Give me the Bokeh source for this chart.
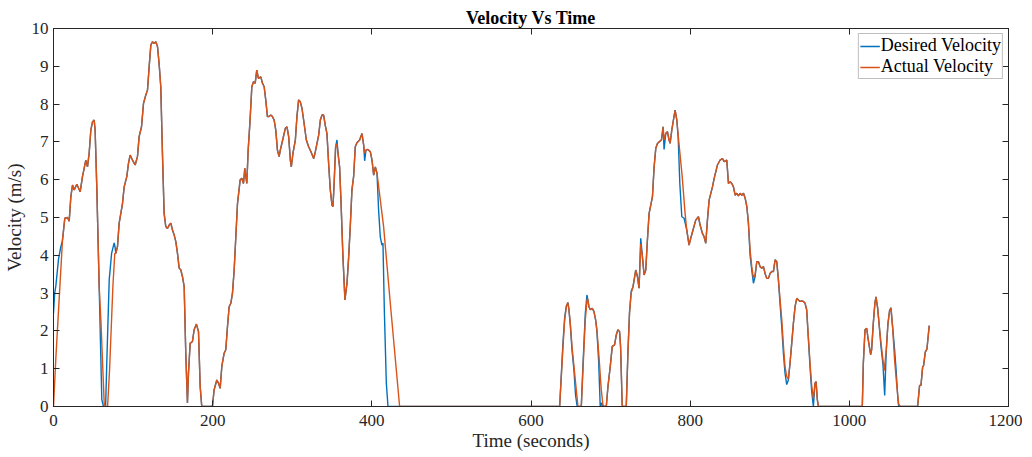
from bokeh.plotting import figure
from bokeh.models import LinearAxis, Legend, LegendItem, Range1d, FixedTicker
from bokeh.embed import file_html
from bokeh.resources import INLINE

# ---------------- data ----------------
t_actual = [0, 3, 7, 11.3, 14.2, 17.6, 19.7, 21.8, 23.9, 26, 29.3, 33.5, 36.4, 40.6, 42.7, 44.8, 46.9, 49, 51.1, 52.3,
            54.4, 57.4, 59.5, 63.7, 65, 68, 70.5, 74.6, 77, 78.3, 80.4, 82.5, 84.6, 86.7, 88.8, 92.1, 94.2, 96.3, 99.2,
            102.6, 105.5, 107.6, 110.6, 113.1, 116, 118.1, 120.2, 122.3, 124.4, 126.5, 128.6, 130.7, 132.7, 134.8,
            136.9, 139, 141.1, 143.2, 145.4, 147.4, 149.5, 151.6, 153.7, 155.8, 157.9, 160, 162, 164.2, 166.2, 168.3,
            169.6, 171.7, 174.6, 176.7, 179.6, 182.2, 184.3, 186.3, 199.7, 201.8, 205.2, 207.3, 209.4, 211.5, 214.4,
            216.5, 218.6, 220.7, 222.8, 224.9, 227, 229.1, 231.2, 234.5, 236.6, 238.7, 240.4, 242.9, 244.6, 247,
            249.2, 251.3, 253.4, 255.4, 257.5, 260.5, 262.6, 264.7, 266.7, 268.8, 270.9, 273, 275.1, 277.2, 279.3,
            281.4, 283.5, 285, 288.4, 291.3, 293.4, 295.5, 297.6, 298.8, 300.9, 303.9, 305.9, 308, 310.1, 312.2,
            314.3, 317.7, 320.6, 323.5, 326.9, 329, 331.1, 333.2, 335.3, 337.4, 339.4, 341.5, 343.6, 345.7, 347.8,
            349.9, 351.2, 352.8, 354.5, 356.2, 357.5, 359.5, 361.2, 363.7, 366.2, 368.8, 370.9, 372.9, 375, 377.1,
            379.2, 381.3, 384.7, 387.6, 389.7, 391, 392.6, 395.1, 398.1, 400.2, 402.3, 404.4, 406.5, 414.8, 423.2,
            434.9, 636, 640.2, 642.3, 644.4, 646.4, 647.7, 649.4, 651.5, 654, 656.9, 659, 663.2, 665.3, 668.2, 670.3,
            671.2, 672.8, 674.5, 677, 679.1, 681.2, 682.8, 685.4, 688.3, 690.4, 692.5, 694.6, 696.7, 699.6, 702.1,
            705, 707.1, 709.2, 711.3, 712.6, 714.6, 715.5, 719.7, 721.8, 723.8, 725.9, 728.2, 731.6, 733.7, 735.8,
            737.9, 740, 742.1, 744.2, 746.3, 748.4, 750.5, 752.6, 754.7, 756.8, 758.9, 761, 763.9, 766, 767.2, 769.3,
            771.4, 773.5, 774.8, 776.9, 779, 781.1, 783.2, 785.5, 790, 793.6, 795.7, 798.6, 800.7, 804.1, 807, 810.4,
            812.5, 815.4, 817.5, 819.6, 821.7, 823.8, 828, 830.1, 834.3, 837.6, 840.6, 842.7, 846, 848.1, 850.2,
            852.3, 854.4, 856.5, 858.6, 860.6, 862.8, 864.9, 867, 869.1, 871.2, 873.2, 875.3, 877.4, 879.5, 881.6,
            883.7, 885.8, 887.9, 890, 892.1, 894.1, 896.2, 898.3, 900.4, 902.5, 904.6, 906.7, 908.8, 910.9, 913,
            915.1, 917.2, 919.2, 921.3, 923.4, 925.5, 927.6, 929.7, 931.8, 933.9, 936, 938.1, 940.2, 942.3, 944.4,
            946.4, 948.5, 950.6, 952.7, 954.8, 956.9, 958.2, 959.8, 961.1, 1016.3, 1017.6, 1019.7, 1021.8, 1023.8,
            1026.8, 1028, 1030.1, 1032.2, 1033.5, 1035.6, 1037.7, 1039.7, 1042.3, 1043.8, 1046.4, 1048.5, 1050.6,
            1052.3, 1054.4, 1056.9, 1059.8, 1061.9, 1064, 1085.8, 1088.3, 1090, 1092.1, 1093.3, 1095.4, 1097.5, 1100.4]
v_actual = [0, 1.3, 2.8, 4.4, 4.98, 5.0, 4.9, 5.55, 5.86, 5.73, 5.88, 5.68, 6.08, 6.52, 6.34, 6.7, 7.31, 7.53, 7.58, 7.31,
            5.81, 3.17, 2.3, 0.09, 0, 0, 1.0, 3.17, 4.05, 4.05, 4.23, 4.85, 5.11, 5.37, 5.81, 6.08, 6.43, 6.65, 6.52,
            6.39, 6.61, 7.14, 7.40, 8.02, 8.24, 8.37, 8.99, 9.56, 9.65, 9.6, 9.65, 9.52, 9.07, 8.46,
            6.70, 5.11, 4.76, 4.71, 4.80, 4.85, 4.67, 4.54, 4.36, 4.05, 3.66, 3.61, 3.44, 3.17, 1.41, 0.09,
            0.88, 1.67, 1.72, 2.03, 2.18, 1.98, 0.53, 0, 0, 0.44, 0.70, 0.62, 0.48, 1.06, 1.41,
            1.50, 2.11, 2.64, 2.73, 3.0, 3.61, 4.49, 5.37, 5.99, 6.04, 5.90, 6.3, 5.9, 6.78, 7.58,
            8.46, 8.59, 8.55, 8.90, 8.68, 8.72, 8.55, 8.46, 8.11, 7.67, 7.67, 7.71, 7.67, 7.58, 7.31,
            6.78, 6.61, 6.78, 7.09, 7.36, 7.40, 7.14, 6.52, 6.34, 6.70, 7.05, 7.67, 8.11, 8.06, 7.89,
            7.58, 7.05, 6.87, 6.74, 6.56, 6.74, 6.96, 7.18, 7.58, 7.71, 7.71, 7.44, 7.22, 6.43, 5.73,
            5.33, 5.29, 5.99, 6.87, 6.95, 6.70, 6.34, 5.46, 3.96, 2.82, 3.26, 3.96, 4.76, 5.73, 6.08,
            6.87, 6.98, 7.05, 7.22, 6.92, 6.7, 6.78, 6.80, 6.74, 6.52, 6.12, 6.34, 6.17, 4.76, 2.73,
            0, 0, 1.59, 2.29, 2.64, 2.75, 2.56, 2.20, 1.59, 1.06, 0.44, 0, 0, 0.97, 2.29, 2.8,
            2.86, 2.64, 2.56, 2.60, 2.51, 2.29, 2.03, 1.32, 0.44, 0.04, 0, 0, 0.53, 1.06, 1.59,
            1.63, 1.89, 2.03, 1.98, 1.59, 0.04, 0, 0, 1.41, 2.47, 3.0, 3.17, 3.61, 3.44, 3.13,
            4.3, 3.96, 3.48, 3.61, 4.41, 5.11, 5.33, 5.55, 6.34, 6.83, 6.96, 7.0, 7.05, 7.40, 7.05, 7.22,
            7.27, 7.05, 6.96, 7.31, 7.58, 7.84, 7.58, 7.05, 6.08, 5.11, 4.67, 4.27, 4.45, 4.71, 4.93, 5.02,
            4.80, 4.58, 4.49, 4.32, 4.93, 5.46, 5.81, 6.03, 6.39, 6.52, 6.56, 6.48, 6.52, 5.90, 5.95,
            5.90, 5.81, 5.59, 5.64, 5.57, 5.64, 5.59, 5.64, 5.51, 5.29, 4.85, 4.14, 3.70, 3.40, 3.50,
            3.83, 3.83, 3.70, 3.66, 3.70, 3.52, 3.39, 3.39, 3.52, 3.57, 3.57, 3.88, 3.83, 3.35, 2.82,
            2.30, 1.60, 1.05, 0.80, 0.72, 1.15, 1.67, 2.20, 2.64, 2.86, 2.82, 2.78, 2.79, 2.78, 2.73,
            2.56, 1.85, 1.15, 0.55, 0.2, 0.62, 0.66, 0.18, 0, 0, 1.15, 2.03, 2.07, 1.76,
            1.37, 1.50, 2.20, 2.75, 2.90, 2.60, 2.11, 1.70, 1.22, 0.95, 1.48, 2.19, 2.54,
            2.61, 2.10, 1.22, 0.51, 0.07, 0, 0, 0.56, 0.56, 1.04, 1.08, 1.44, 1.52, 2.14]

t_desired = [0, 1.5, 3, 6.3, 9, 11.3, 14.2, 17.6, 19.7, 21.8, 23.9, 26, 29.3, 33.5, 36.4, 40.6, 42.7, 44.8, 46.9, 49,
             51.1, 52.3, 54.4, 57.4, 60.7, 62.8, 65.5, 67, 70, 73, 76.2, 77.5, 78.3, 80.4, 82.5, 84.6, 86.7, 88.8,
             92.1, 94.2, 96.3, 99.2, 102.6, 105.5, 107.6, 110.6, 113.1, 116, 118.1, 120.2, 122.3, 124.4, 126.5, 128.6,
             130.7, 132.7, 134.8, 136.9, 139, 141.1, 143.2, 145.4, 147.4, 149.5, 151.6, 153.7, 155.8, 157.9, 160, 162,
             164.2, 166.2, 168.3, 169.6, 171.7, 174.6, 176.7, 179.6, 182.2, 184.3, 186.3, 199.7, 201.8, 205.2, 207.3,
             209.4, 211.5, 214.4, 216.5, 218.6, 220.7, 222.8, 224.9, 227, 229.1, 231.2, 234.5, 236.6, 238.7, 240.4,
             242.9, 244.6, 247, 249.2, 251.3, 253.4, 255.4, 257.5, 260.5, 262.6, 264.7, 266.7, 268.8, 270.9, 273,
             275.1, 277.2, 279.3, 281.4, 283.5, 285, 288.4, 291.3, 293.4, 295.5, 297.6, 298.8, 300.9, 303.9, 305.9,
             308, 310.1, 312.2, 314.3, 317.7, 320.6, 323.5, 326.9, 329, 331.1, 333.2, 335.3, 337.4, 339.4, 341.5,
             343.6, 345.7, 347.8, 349.9, 351.2, 352.8, 354.5, 356.2, 357.5, 359.5, 361.2, 363.7, 366.2, 368.8, 370.9,
             372.9, 375, 377.1, 379.2, 381.3, 384.7, 387.6, 389.7, 391, 392.6, 395.1, 398.1, 400.2, 402.3, 404.4,
             406.5, 408.5, 410.6, 412.7, 414, 415.7, 418.2, 420.3, 636, 640.2, 642.3, 644.4, 646.4, 647.7, 649.4,
             651.5, 654, 656, 658, 663.2, 665.3, 668.2, 670.3, 672.8, 674.5, 677, 679.1, 681.2, 682.8, 685, 687,
             688.8, 690, 694.6, 696.7, 699.6, 702.1, 705, 707.1, 709.2, 711.3, 712.6, 714.6, 715.5, 719.7, 721.8,
             723.8, 725.9, 728.2, 731.6, 733.7, 735.8, 737.9, 740, 742.1, 744.2, 746.3, 748.4, 750.5, 752.6, 754.7,
             756.8, 758.9, 761, 763.9, 766, 767.2, 769.3, 771.4, 773.5, 774.8, 776.9, 779, 781.1, 783.2, 784.9, 787,
             789.5, 792.4, 795.7, 798.6, 800.7, 804.1, 807, 810.4, 812.5, 815.4, 817.5, 819.6, 821.7, 823.8, 828,
             830.1, 834.3, 837.6, 840.6, 842.7, 846, 848.1, 850.2, 852.3, 854.4, 856.5, 858.6, 860.6, 862.8, 864.9,
             867, 869.1, 871.2, 873.2, 875.3, 877.4, 879.5, 881.6, 883.7, 885.8, 887.9, 890, 892.1, 894.1, 896.2,
             898.3, 900.4, 902.5, 904.6, 906.7, 908.8, 910.9, 913, 915.1, 917.2, 919.2, 921.3, 923.4, 925.5, 927.6,
             929.7, 931.8, 933.9, 936, 938.1, 940.2, 942.3, 944.4, 946.4, 948.5, 950.6, 952.7, 954.8, 956.9, 958.2,
             959.8, 961.1, 1016.3, 1017.6, 1019.7, 1021.8, 1023.8, 1026.8, 1028, 1030.1, 1032.2, 1033.5, 1035.6,
             1037.7, 1039.7, 1042.3, 1044.4, 1046.4, 1048.5, 1050.6, 1052.3, 1054.4, 1056.9, 1059, 1061, 1062, 1085.8,
             1088.3, 1090, 1092.1, 1093.3, 1095.4, 1097.5, 1100.4]
v_desired = [2.47, 3.0, 3.2, 3.9, 4.2, 4.4, 4.98, 5.0, 4.9, 5.55, 5.86, 5.73, 5.88, 5.68, 6.08, 6.52, 6.34, 6.7, 7.31, 7.53,
             7.58, 7.31, 5.81, 3.17, 0.18, 0, 0, 1.2, 3.35, 4.05, 4.33, 4.2, 4.05, 4.23, 4.85, 5.11, 5.37, 5.81,
             6.08, 6.43, 6.65, 6.52, 6.39, 6.61, 7.14, 7.40, 8.02, 8.24, 8.37, 8.99, 9.56, 9.65, 9.6, 9.65,
             9.52, 9.07, 8.46, 6.70, 5.11, 4.76, 4.71, 4.80, 4.85, 4.67, 4.54, 4.36, 4.05, 3.66, 3.61, 3.44,
             3.17, 1.41, 0.09, 0.88, 1.67, 1.72, 2.03, 2.18, 1.98, 0.53, 0, 0, 0.44, 0.70, 0.62,
             0.48, 1.06, 1.41, 1.50, 2.11, 2.64, 2.73, 3.0, 3.61, 4.49, 5.37, 5.99, 6.04, 5.90, 6.3,
             5.9, 6.78, 7.58, 8.46, 8.59, 8.55, 8.90, 8.68, 8.72, 8.55, 8.46, 8.11, 7.67, 7.67, 7.71,
             7.67, 7.58, 7.31, 6.78, 6.61, 6.78, 7.09, 7.36, 7.40, 7.14, 6.52, 6.34, 6.70, 7.05, 7.67,
             8.11, 8.06, 7.89, 7.58, 7.05, 6.87, 6.74, 6.56, 6.74, 6.96, 7.18, 7.58, 7.71, 7.71, 7.44,
             7.22, 6.43, 5.73, 5.33, 5.29, 5.99, 6.87, 7.05, 6.70, 6.34, 5.46, 3.96, 2.82, 3.26, 3.96,
             4.76, 5.73, 6.08, 6.87, 6.98, 7.05, 7.22, 6.92, 6.5, 6.78, 6.80, 6.74, 6.52, 6.12, 6.34,
             6.17, 5.20, 4.49, 4.27, 4.32, 2.56, 0.62, 0, 0, 1.7, 2.35, 2.66, 2.75, 2.56, 2.15,
             1.5, 0.95, 0.3, 0, 0, 1.1, 2.45, 2.95, 2.64, 2.56, 2.60, 2.51, 2.29, 2.0, 1.2, 0,
             0.1, 0, 0, 0.53, 1.06, 1.59, 1.63, 1.89, 2.03, 1.98, 1.55, 0.02, 0, 0, 1.45,
             2.5, 3.05, 3.17, 3.61, 3.44, 3.13, 4.45, 3.96, 3.48, 3.61, 4.41, 5.11, 5.33, 5.55, 6.34,
             6.83, 6.96, 7.0, 7.05, 7.40, 6.8, 7.22, 7.27, 7.05, 6.96, 7.31, 7.58, 7.84, 7.58, 7.14, 5.90,
             5.02, 4.98, 4.67, 4.27, 4.45, 4.71, 4.93, 5.02, 4.80, 4.58, 4.49, 4.32, 4.93, 5.46, 5.81,
             6.03, 6.39, 6.52, 6.56, 6.48, 6.52, 5.90, 5.95, 5.90, 5.81, 5.59, 5.64, 5.57, 5.64, 5.59,
             5.64, 5.51, 5.29, 4.85, 4.0, 3.61, 3.26, 3.44, 3.83, 3.83, 3.70, 3.66, 3.70, 3.52, 3.39,
             3.39, 3.52, 3.57, 3.57, 3.88, 3.83, 3.35, 2.7, 2.1, 1.4, 0.88, 0.58, 0.7, 1.15, 1.67,
             2.20, 2.64, 2.86, 2.82, 2.78, 2.79, 2.78, 2.73, 2.56, 1.8, 1.05, 0.4, 0, 0.62, 0.66,
             0.18, 0, 0, 1.15, 2.03, 2.07, 1.76, 1.37, 1.50, 2.20, 2.75, 2.90, 2.60,
             2.11, 1.60, 1.1, 0.29, 1.48, 2.19, 2.54, 2.61, 2.10, 1.5, 0.9, 0.2, 0, 0,
             0.56, 0.56, 1.04, 1.08, 1.44, 1.52, 2.14]

x_ticks = [0, 200, 400, 600, 800, 1000, 1200]
y_ticks = [0, 1, 2, 3, 4, 5, 6, 7, 8, 9, 10]
title_text = "Velocity Vs Time"
x_label = "Time (seconds)"
y_label = "Velocity (m/s)"
series_names = ["Desired Velocity", "Actual Velocity"]
colors = ["#0072BD", "#D95319"]

# ---------------- figure ----------------
FONT = "Liberation Serif"
AX = "#262626"

p = figure(frame_width=955, frame_height=378, output_backend="svg", toolbar_location=None,
           x_range=Range1d(0, 1200), y_range=Range1d(0, 10),
           min_border_left=44, min_border_right=14, min_border_top=28, min_border_bottom=4)

p.title.text = title_text
p.title.align = "center"
p.title.text_font = FONT
p.title.text_font_size = "18px"
p.title.text_font_style = "bold"
p.title.text_color = "#000000"
p.title.standoff = 2

p.grid.visible = False
p.outline_line_color = AX
p.outline_line_width = 1
p.background_fill_color = "white"
p.border_fill_color = "white"

p.xaxis.ticker = FixedTicker(ticks=x_ticks)
p.yaxis.ticker = FixedTicker(ticks=y_ticks)
p.xaxis.axis_label = x_label
p.yaxis.axis_label = y_label

for ax in [p.xaxis[0], p.yaxis[0]]:
    ax.axis_line_color = AX
    ax.major_tick_line_color = AX
    ax.major_tick_in = 6
    ax.major_tick_out = 0
    ax.minor_tick_line_color = None
    ax.major_label_text_font = FONT
    ax.major_label_text_font_size = "17px"
    ax.major_label_text_color = AX
    ax.axis_label_text_font = FONT
    ax.axis_label_text_font_size = "19px"
    ax.axis_label_text_font_style = "normal"
    ax.axis_label_text_color = AX
p.xaxis[0].major_label_standoff = 8
p.xaxis[0].axis_label_standoff = 1
p.yaxis[0].major_label_standoff = 5
p.yaxis[0].axis_label_standoff = 4

# mirrored axes (box on)
top = LinearAxis(ticker=FixedTicker(ticks=x_ticks))
right = LinearAxis(ticker=FixedTicker(ticks=y_ticks))
for ax in [top, right]:
    ax.axis_line_color = AX
    ax.major_tick_line_color = AX
    ax.major_tick_in = 6
    ax.major_tick_out = 0
    ax.minor_tick_line_color = None
    ax.major_label_text_font_size = "0px"
    ax.major_label_text_color = None
    ax.major_label_standoff = 0
p.add_layout(top, "above")
p.add_layout(right, "right")

r1 = p.line(t_desired, v_desired, line_color=colors[0], line_width=1.4)
r2 = p.line(t_actual, v_actual, line_color=colors[1], line_width=1.4)

legend = Legend(items=[LegendItem(label=series_names[0], renderers=[r1]),
                       LegendItem(label=series_names[1], renderers=[r2])],
                location="top_right")
legend.label_text_font = FONT
legend.label_text_font_size = "18px"
legend.label_text_color = "#000000"
legend.label_standoff = 1
legend.label_height = 20
legend.glyph_width = 20
legend.glyph_height = 20
legend.spacing = 0
legend.padding = 1
legend.margin = 5
legend.border_line_color = "#808080"
legend.border_line_width = 1
legend.background_fill_alpha = 1.0
p.add_layout(legend)

open("out.html", "w").write(file_html(p, INLINE))
